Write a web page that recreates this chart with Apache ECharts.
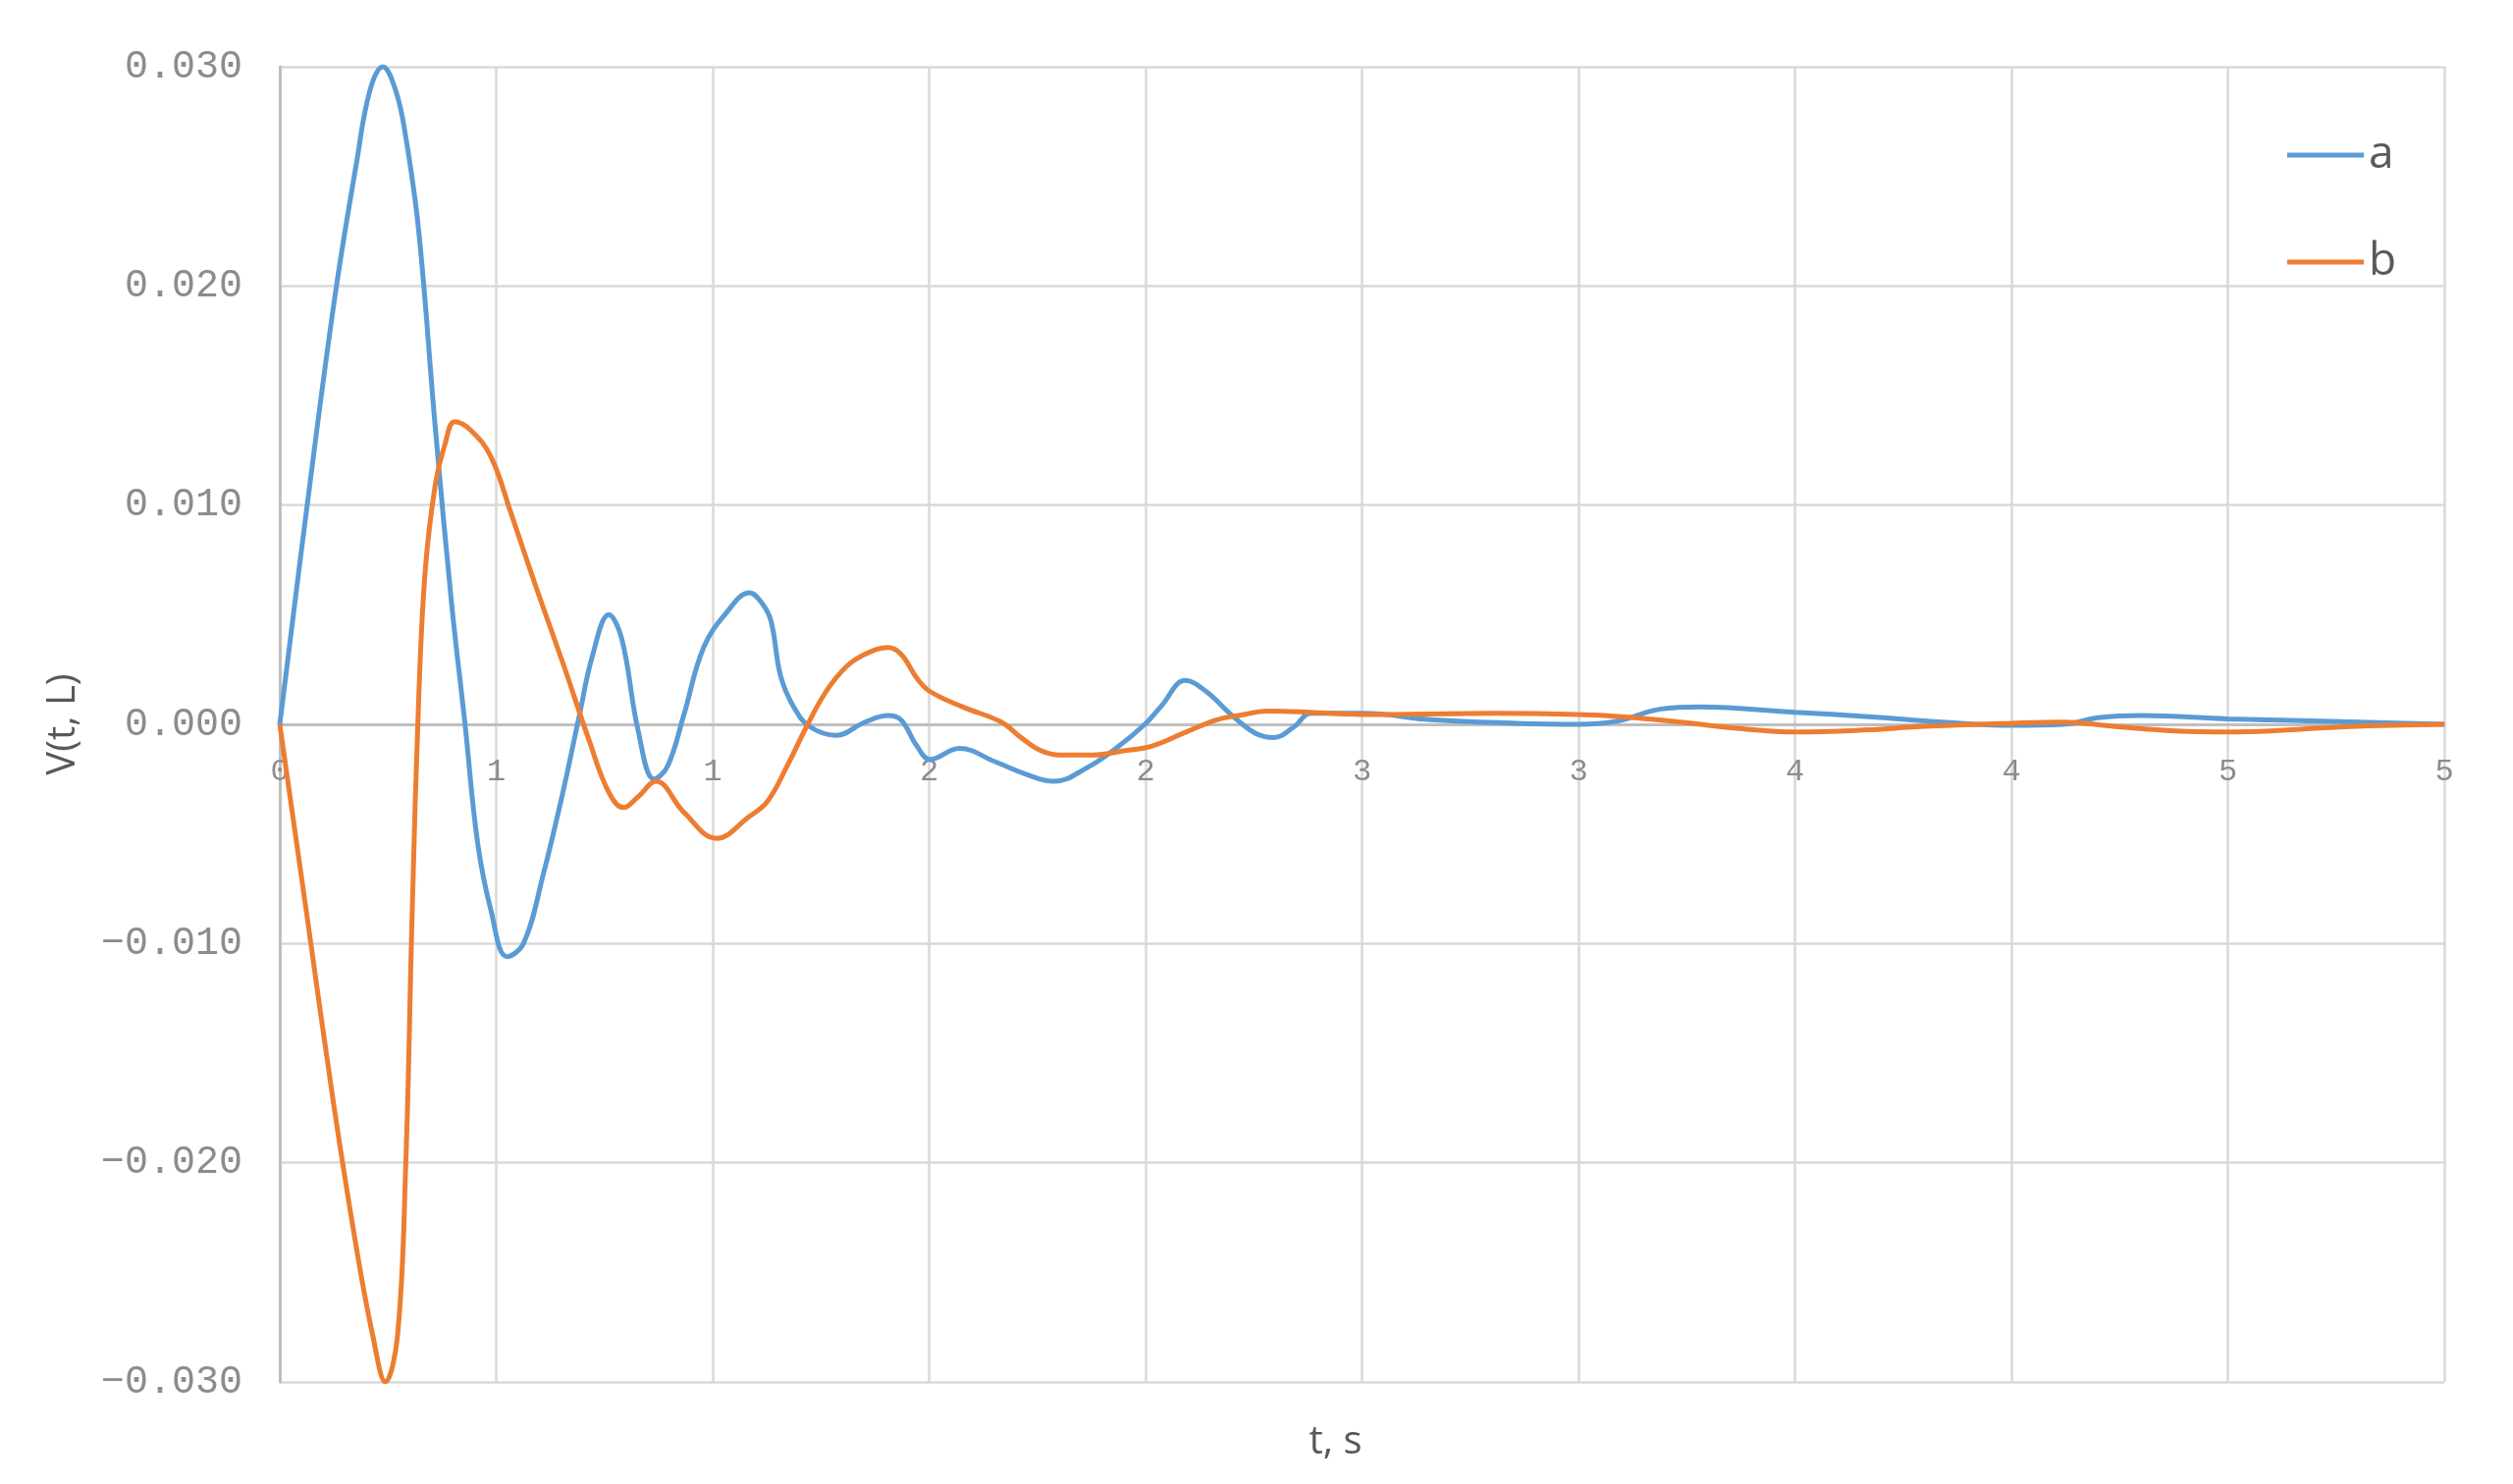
<!DOCTYPE html>
<html>
<head>
<meta charset="utf-8">
<script src="https://cdn.jsdelivr.net/npm/echarts@6/dist/echarts.min.js"></script>
<style>
  html, body { margin: 0; padding: 0; background: #fff; }
  #chart { width: 2560px; height: 1512px; }
</style>
</head>
<body>
<div id="chart"></div>
<script>
  // series a (blue)
  const tA = [0, 0.064, 0.128, 0.178, 0.208, 0.238, 0.268, 0.291, 0.321, 0.359, 0.397, 0.428, 0.457, 0.488, 0.525, 0.563, 0.608, 0.654, 0.692, 0.722, 0.760, 0.790, 0.828, 0.865, 0.896, 0.933, 0.979, 1.032, 1.085, 1.115, 1.135, 1.157, 1.187, 1.224, 1.285, 1.352, 1.405, 1.435, 1.472, 1.502, 1.570, 1.652, 1.727, 1.788, 1.863, 1.938, 1.998, 2.035, 2.092, 2.140, 2.200, 2.253, 2.296, 2.344, 2.381, 2.5, 2.666, 2.855, 2.998, 3.09, 3.19, 3.28, 3.5, 3.67, 3.84, 4.0, 4.12, 4.2, 4.3, 4.5, 4.74, 5.0];
  const vA = [0, 0.0101, 0.0196, 0.0257, 0.0289, 0.0300, 0.0289, 0.0268, 0.0225, 0.0136, 0.0055, 0.0000, -0.0054, -0.0085, -0.0106, -0.0100, -0.0069, -0.0031, 0.0004, 0.0031, 0.0050, 0.0039, -0.0003, -0.0025, -0.0019, 0.0004, 0.0035, 0.0051, 0.0060, 0.0055, 0.0047, 0.0022, 0.0008, -0.0001, -0.0005, 0.0001, 0.0004, 0.0002, -0.0010, -0.0016, -0.0011, -0.0017, -0.0023, -0.0026, -0.0020, -0.0010, 0, 0.0008, 0.0020, 0.0015, 0.0004, -0.0004, -0.0006, -0.0001, 0.0005, 0.0005, 0.0002, 0.00005, 0, 0.00015, 0.0007, 0.0008, 0.00055, 0.00035, 0.0001, -0.00005, 0, 0.0003, 0.0004, 0.00025, 0.00013, 0];

  // series b (orange)
  const tB = [0, 0.064, 0.125, 0.178, 0.215, 0.244, 0.272, 0.291, 0.306, 0.321, 0.336, 0.359, 0.382, 0.404, 0.442, 0.488, 0.533, 0.593, 0.654, 0.714, 0.760, 0.794, 0.828, 0.869, 0.933, 1.009, 1.085, 1.127, 1.172, 1.217, 1.262, 1.307, 1.352, 1.405, 1.435, 1.472, 1.502, 1.577, 1.667, 1.712, 1.758, 1.803, 1.878, 1.953, 2.013, 2.088, 2.163, 2.215, 2.283, 2.38, 2.5, 2.81, 2.998, 3.1, 3.235, 3.377, 3.5, 3.67, 3.79, 4.0, 4.12, 4.24, 4.38, 4.5, 4.6, 4.78, 5.0];
  const vB = [0, -0.0089, -0.0174, -0.0240, -0.0279, -0.0300, -0.0279, -0.0201, -0.0085, 0.0012, 0.0070, 0.0109, 0.0128, 0.0138, 0.0134, 0.0122, 0.0097, 0.0062, 0.0028, -0.0007, -0.0031, -0.0038, -0.0033, -0.0026, -0.0040, -0.0052, -0.0042, -0.0035, -0.0019, -0.0001, 0.0015, 0.0026, 0.0032, 0.0035, 0.0032, 0.0021, 0.0015, 0.0008, 0.0001, -0.0006, -0.0012, -0.0014, -0.0014, -0.0012, -0.0010, -0.0004, 0.0002, 0.0004, 0.0006, 0.00055, 0.00045, 0.0005, 0.00045, 0.00035, 0.0001, -0.0002, -0.00035, -0.00025, -0.0001, 0.00005, 0.0001, -0.0001, -0.0003, -0.00035, -0.0003, -0.0001, 0];

  const seriesNames = ['a', 'b'];
  const colors = ['#5B9BD5', '#ED7D31'];

  const pairs = (ts, vs) => ts.map((t, i) => [t, vs[i]]);

  const gridTop = 68, gridBottom = 104;
  const plotH = 1512 - gridTop - gridBottom;
  // x axis sits on y = 0, which is the middle of the -0.03..0.03 range
  const zeroOffset = -plotH / 2;

  const chart = echarts.init(document.getElementById('chart'));
  chart.setOption({
    animation: false,
    grid: { left: 285, right: 70, top: gridTop, bottom: gridBottom, containLabel: false, outerBoundsMode: 'none' },
    legend: {
      data: seriesNames,
      orient: 'vertical',
      left: 2325,
      top: 130,
      icon: 'rect',
      itemWidth: 78,
      itemHeight: 5,
      itemGap: 63,
      textStyle: { fontSize: 46, lineHeight: 46, color: '#595959', fontFamily: 'Open Sans' }
    },
    xAxis: {
      type: 'value',
      min: 0,
      max: 5,
      interval: 0.5,
      offset: zeroOffset,
      name: 't, s',
      nameLocation: 'middle',
      nameGap: 712,
      nameTextStyle: { fontSize: 40, color: '#595959', fontFamily: 'Open Sans', padding: [0, 54, 0, 0] },
      axisLine: { onZero: false, lineStyle: { color: '#bfbfbf', width: 3 } },
      axisTick: { show: false },
      axisLabel: {
        margin: 33,
        fontSize: 32,
        color: '#8c8c8c',
        fontFamily: 'Liberation Mono',
        formatter: v => String(Math.round(v))
      },
      splitLine: { show: true, lineStyle: { color: '#d9d9d9', width: 2.5 } }
    },
    yAxis: {
      type: 'value',
      min: -0.03,
      max: 0.03,
      interval: 0.01,
      name: 'V(t, L)',
      nameLocation: 'middle',
      nameRotate: 90,
      nameGap: 200,
      nameTextStyle: { fontSize: 40, color: '#595959', fontFamily: 'Open Sans' },
      axisLine: { show: true, onZero: false, lineStyle: { color: '#bfbfbf', width: 3 } },
      axisTick: { show: false },
      axisLabel: {
        margin: 38,
        fontSize: 40,
        color: '#8c8c8c',
        fontFamily: 'Liberation Mono',
        formatter: v => (v < -1e-9 ? '\u2212' : '') + Math.abs(v).toFixed(3)
      },
      splitLine: { show: true, lineStyle: { color: '#d9d9d9', width: 2.5 } }
    },
    series: [
      {
        name: seriesNames[0],
        type: 'line',
        data: pairs(tA, vA),
        smooth: 0.4,
        symbol: 'none',
        lineStyle: { color: colors[0], width: 5 },
        itemStyle: { color: colors[0] }
      },
      {
        name: seriesNames[1],
        type: 'line',
        data: pairs(tB, vB),
        smooth: 0.4,
        symbol: 'none',
        lineStyle: { color: colors[1], width: 5 },
        itemStyle: { color: colors[1] }
      }
    ]
  });
</script>
</body>
</html>
